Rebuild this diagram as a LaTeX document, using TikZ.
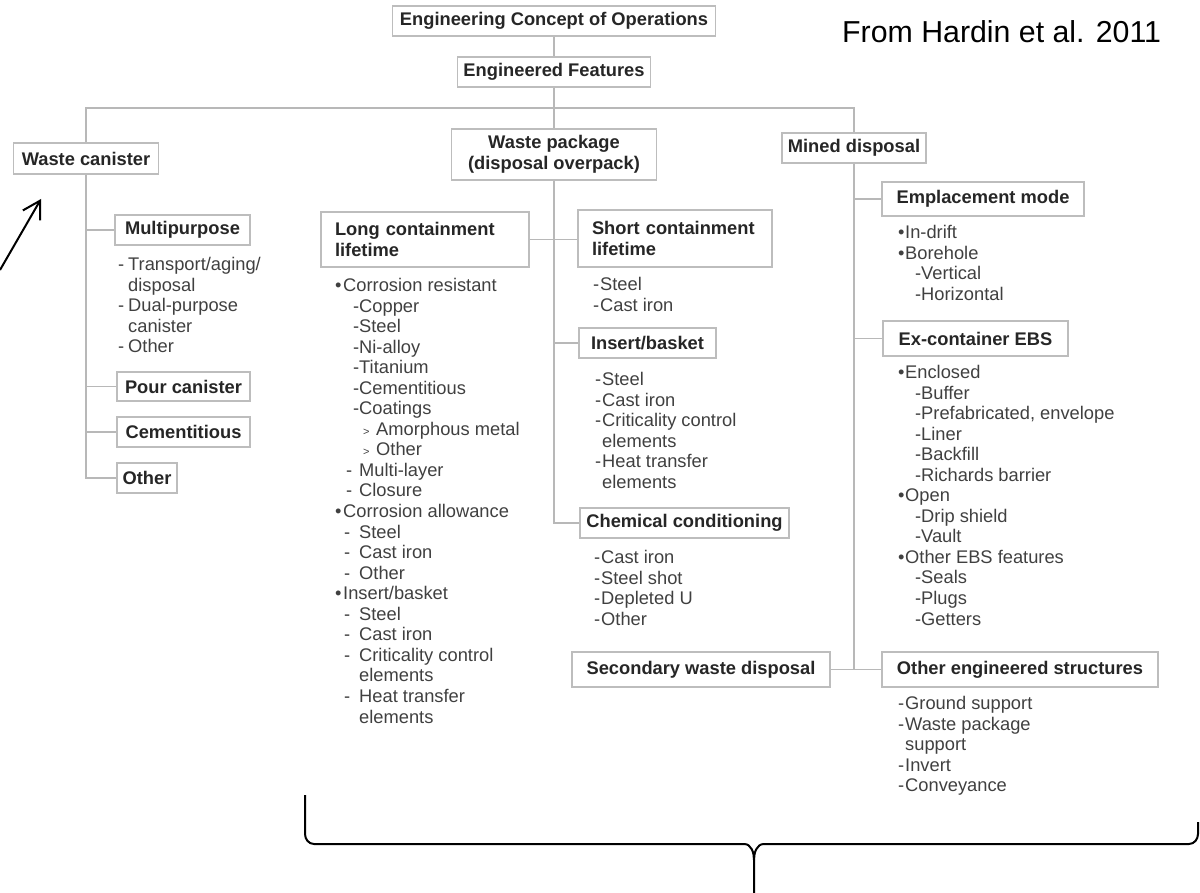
\documentclass[tikz,border=0pt]{standalone}
\usepackage{fontspec}
\setmainfont{Liberation Sans}
\usepackage{tikz}
\usetikzlibrary{
  arrows.meta,
  positioning,
  calc
}
\definecolor{fhBox}{HTML}{BDBDBD}
\definecolor{fhLine}{HTML}{B8B8B8}
\definecolor{fhHead}{HTML}{262626}
\definecolor{fhText}{HTML}{404040}
\newcommand{\boxfont}{\fontsize{18.3pt}{21pt}\selectfont\bfseries}
\newcommand{\itemfont}{\fontsize{18.3pt}{20.55pt}\selectfont}
\newcommand{\mk}[2]{\makebox[#1pt][l]{#2}}
\newcommand{\ind}[1]{\hspace*{#1pt}}
\newcommand{\arr}{{\fontsize{11pt}{11pt}\selectfont >}}
\tikzset{
  hbox/.style={
    draw=fhBox, line width=1.5pt, fill=white, font=\boxfont, text=fhHead,
    inner sep=0pt, align=center, minimum height=30pt
  },
  items/.style={anchor=north west, inner sep=0pt, align=left, font=\itemfont, text=fhText},
  link/.style={draw=fhLine, line width=1.5pt},
  pointer/.style={-{Straight Barb[length=17pt,width=20pt]}, line width=2pt, black},
  bracket/.style={line width=2pt, black}
}

\begin{document}
\begin{tikzpicture}[x=1pt, y=-1pt]
  \useasboundingbox (0,0) rectangle (1200,893);

  % top of the tree
  \node[hbox, minimum width=323pt] (eco) at (554,21) {Engineering Concept of Operations};
  \node[hbox, minimum width=193pt] (feat) at (554,72) {Engineered Features};
  \coordinate (bar) at (554,108);
  \node[hbox, minimum width=145pt, minimum height=31pt] (canister) at (86,158.5) {Waste canister};
  \node[hbox, minimum width=205pt, minimum height=51pt] (package) at (554,154.5) {Waste package\\(disposal overpack)};
  \node[hbox, minimum width=144pt] (mined) at (854,148) {Mined disposal};
  \node[anchor=base west, inner sep=0pt, font=\fontsize{30.3pt}{36pt}\selectfont] (source) at (842,43) {From Hardin et al. 2011};

  % waste canister branch
  \node[hbox, minimum width=135pt] (multi) at (182.5,230) {Multipurpose};
  \node[items] (multi-list) at (118,257) {%
    \mk{10}{-}Transport/aging/\\
    \ind{10}disposal\\
    \mk{10}{-}Dual-purpose\\
    \ind{10}canister\\
    \mk{10}{-}Other};
  \node[hbox, minimum width=133pt, minimum height=29pt] (pour) at (183.5,386.5) {Pour canister};
  \node[hbox, minimum width=133pt] (cement) at (183.5,432) {Cementitious};
  \node[hbox, minimum width=60pt] (otherc) at (147,478) {Other};

  % waste package branch
  \node[hbox, align=left, text width=180pt, inner xsep=14pt, minimum height=55pt] (longc) at (425,239.5) {Long containment\\lifetime};
  \node[items] (long-list) at (335,278) {%
    \mk{8}{\textbullet}Corrosion resistant\\
    \ind{18}\mk{6}{-}Copper\\
    \ind{18}\mk{6}{-}Steel\\
    \ind{18}\mk{6}{-}Ni-alloy\\
    \ind{18}\mk{6}{-}Titanium\\
    \ind{18}\mk{6}{-}Cementitious\\
    \ind{18}\mk{6}{-}Coatings\\
    \ind{28}\mk{13}{\arr}Amorphous metal\\
    \ind{28}\mk{13}{\arr}Other\\
    \ind{11}\mk{13}{-}Multi-layer\\
    \ind{11}\mk{13}{-}Closure\\
    \mk{8}{\textbullet}Corrosion allowance\\
    \ind{9}\mk{15}{-}Steel\\
    \ind{9}\mk{15}{-}Cast iron\\
    \ind{9}\mk{15}{-}Other\\
    \mk{8}{\textbullet}Insert/basket\\
    \ind{9}\mk{15}{-}Steel\\
    \ind{9}\mk{15}{-}Cast iron\\
    \ind{9}\mk{15}{-}Criticality control\\
    \ind{24}elements\\
    \ind{9}\mk{15}{-}Heat transfer\\
    \ind{24}elements};
  \node[hbox, align=left, text width=166pt, inner xsep=14pt, minimum height=57pt] (shortc) at (675,238.5) {Short containment\\lifetime};
  \node[items] (short-list) at (593,277) {%
    \mk{7}{-}Steel\\
    \mk{7}{-}Cast iron};
  \node[hbox, minimum width=137pt] (insert) at (647.5,343) {Insert/basket};
  \node[items] (insert-list) at (595,372) {%
    \mk{7}{-}Steel\\
    \mk{7}{-}Cast iron\\
    \mk{7}{-}Criticality control\\
    \ind{7}elements\\
    \mk{7}{-}Heat transfer\\
    \ind{7}elements};
  \node[hbox, minimum width=209pt] (chem) at (684.5,523) {Chemical conditioning};
  \node[items] (chem-list) at (594,550) {%
    \mk{7}{-}Cast iron\\
    \mk{7}{-}Steel shot\\
    \mk{7}{-}Depleted U\\
    \mk{7}{-}Other};
  \node[hbox, minimum width=258pt, minimum height=35pt] (secondary) at (701,669.5) {Secondary waste disposal};

  % mined disposal branch
  \node[hbox, minimum width=202pt, minimum height=34pt] (emplace) at (983,199) {Emplacement mode};
  \node[items] (emplace-list) at (898,225) {%
    \mk{7}{\textbullet}In-drift\\
    \mk{7}{\textbullet}Borehole\\
    \ind{17}\mk{6}{-}Vertical\\
    \ind{17}\mk{6}{-}Horizontal};
  \node[hbox, minimum width=185pt, minimum height=35pt] (ebs) at (975.5,338.5) {Ex-container EBS};
  \node[items] (ebs-list) at (898,365) {%
    \mk{7}{\textbullet}Enclosed\\
    \ind{17}\mk{6}{-}Buffer\\
    \ind{17}\mk{6}{-}Prefabricated, envelope\\
    \ind{17}\mk{6}{-}Liner\\
    \ind{17}\mk{6}{-}Backfill\\
    \ind{17}\mk{6}{-}Richards barrier\\
    \mk{7}{\textbullet}Open\\
    \ind{17}\mk{6}{-}Drip shield\\
    \ind{17}\mk{6}{-}Vault\\
    \mk{7}{\textbullet}Other EBS features\\
    \ind{17}\mk{6}{-}Seals\\
    \ind{17}\mk{6}{-}Plugs\\
    \ind{17}\mk{6}{-}Getters};
  \node[hbox, minimum width=276pt, minimum height=35pt] (othereng) at (1020,669.5) {Other engineered structures};
  \node[items] (othereng-list) at (898,696) {%
    \mk{7}{-}Ground support\\
    \mk{7}{-}Waste package\\
    \ind{7}support\\
    \mk{7}{-}Invert\\
    \mk{7}{-}Conveyance};

  % tree lines
  \draw[link] (eco.south) -- (feat.north);
  \draw[link] (feat.south) -- (package.north);
  \draw[link] (canister.north) |- (bar) -| (mined.north);
  \draw[link] (canister.south) |- (otherc.west);
  \foreach \n in {multi,pour,cement}
    \draw[link] (canister.south |- \n.west) -- (\n.west);
  \draw[link] (package.south) |- (chem.west);
  \draw[link] (package.south |- insert.west) -- (insert.west);
  \draw[link] (longc.east) -- (longc.east -| shortc.west);
  \draw[link] (mined.south) |- (othereng.west);
  \foreach \n in {emplace,ebs}
    \draw[link] (mined.south |- \n.west) -- (\n.west);
  \draw[link] (secondary.east) -- (secondary.east -| mined.south);

  % hand-drawn arrow and brace
  \coordinate (ptr-tail) at (0,270);
  \coordinate (ptr-head) at (41,199);
  \draw[pointer] (ptr-tail) -- (ptr-head);
  \coordinate (brace-tip) at (754,893);
  \draw[bracket] (305,795) -- (305,834) to[out=-90,in=180] (314,844) -- (744,844)
    to[out=0,in=90] (754,860) -- (brace-tip);
  \draw[bracket] (754,860) to[out=90,in=180] (764,844) -- (1189,844)
    to[out=0,in=-90] (1198,834) -- (1198,822);
\end{tikzpicture}
\end{document}
